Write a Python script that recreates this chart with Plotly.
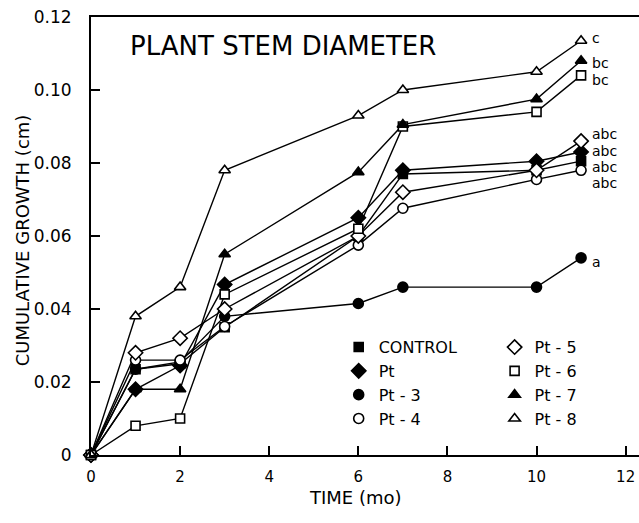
import plotly.graph_objects as go

# ---- data ----
months = [0, 1, 2, 3, 6, 7, 10, 11]
series_names = ["CONTROL", "Pt", "Pt - 3", "Pt - 4", "Pt - 5", "Pt - 6", "Pt - 7", "Pt - 8"]
control = [0, 0.0235, 0.025, 0.035, 0.060, 0.077, 0.078, 0.0805]
pt = [0, 0.018, 0.0245, 0.0467, 0.065, 0.078, 0.0805, 0.083]
pt3 = [0, 0.0235, 0.0255, 0.038, 0.0415, 0.046, 0.046, 0.054]
pt4 = [0, 0.026, 0.026, 0.0352, 0.0575, 0.0676, 0.0755, 0.078]
pt5 = [0, 0.028, 0.032, 0.040, 0.060, 0.072, 0.078, 0.086]
pt6 = [0, 0.008, 0.010, 0.044, 0.062, 0.090, 0.094, 0.104]
pt7 = [0, 0.018, 0.018, 0.055, 0.0775, 0.0905, 0.0975, 0.108]
pt8 = [0, 0.038, 0.046, 0.078, 0.093, 0.100, 0.105, 0.1135]

x_tickvals = [0, 2, 4, 6, 8, 10, 12]
x_ticktext = ["0", "2", "4", "6", "8", "10", "12"]
y_tickvals = [0, 0.02, 0.04, 0.06, 0.08, 0.10, 0.12]
y_ticktext = ["0", "0.02", "0.04", "0.06", "0.08", "0.10", "0.12"]

sig_letters = ["c", "bc", "bc", "abc", "abc", "abc", "abc", "a"]

# ---- styling ----
FONT = "DejaVu Sans"
values = [control, pt, pt3, pt4, pt5, pt6, pt7, pt8]
symbols = ["square", "diamond", "circle", "circle", "diamond", "square", "triangle-up", "triangle-up"]
fills = ["black", "black", "black", "white", "white", "white", "black", "white"]
sizes = [9, 11, 10, 10, 11, 9, 10, 10]
legend_ids = ["legend", "legend", "legend", "legend", "legend2", "legend2", "legend2", "legend2"]
letter_y = [0.1142, 0.1074, 0.1027, 0.0880, 0.0833, 0.0788, 0.0744, 0.0529]

fig = go.Figure()
# lines first
for name, v in zip(series_names, values):
    fig.add_trace(go.Scatter(x=months, y=v, mode="lines", showlegend=False,
                             line=dict(color="black", width=1.4), cliponaxis=False,
                             hoverinfo="skip"))
# markers on top (with legend)
for i in range(len(series_names)):
    fig.add_trace(go.Scatter(
        x=months, y=values[i], mode="markers", name=series_names[i],
        legend=legend_ids[i], legendrank=i,
        marker=dict(symbol=symbols[i], size=sizes[i], color=fills[i],
                    line=dict(color="black", width=1.6)),
        cliponaxis=False))

for letter, ly in zip(sig_letters, letter_y):
    fig.add_annotation(x=11.2, y=ly, text=letter, showarrow=False, xanchor="left",
                       yanchor="middle", font=dict(family=FONT, size=14, color="black"))

# chart title inside plot
fig.add_annotation(x=0.0675, y=0.934, xref="paper", yref="paper", text="PLANT STEM DIAMETER",
                   showarrow=False, xanchor="left", yanchor="middle",
                   font=dict(family=FONT, size=26, color="black"))
# axis titles
fig.add_annotation(x=0.482, y=-0.098, xref="paper", yref="paper", text="TIME (mo)",
                   showarrow=False, xanchor="center", yanchor="middle",
                   font=dict(family=FONT, size=18, color="black"))
fig.add_annotation(x=-0.126, y=0.49, xref="paper", yref="paper", text="CUMULATIVE GROWTH (cm)",
                   showarrow=False, xanchor="center", yanchor="middle", textangle=-90,
                   font=dict(family=FONT, size=18, color="black"))

fig.update_layout(
    width=639, height=523,
    margin=dict(l=91, r=0, t=17, b=68, autoexpand=False),
    paper_bgcolor="white", plot_bgcolor="white",
    font=dict(family=FONT, size=17, color="black"),
    legend=dict(x=0.452, y=0.285, xanchor="left", yanchor="top", bgcolor="rgba(0,0,0,0)",
                font=dict(family=FONT, size=16), tracegroupgap=0, itemwidth=30),
    legend2=dict(x=0.7365, y=0.285, xanchor="left", yanchor="top", bgcolor="rgba(0,0,0,0)",
                 font=dict(family=FONT, size=16), tracegroupgap=0, itemwidth=30),
)
fig.update_xaxes(range=[0, 12.3], tickvals=x_tickvals, ticktext=x_ticktext, automargin=False,
                 showgrid=False, zeroline=False, showline=True, linecolor="black", linewidth=2,
                 mirror=True, ticks="inside", ticklen=9, tickwidth=1.5, tickcolor="black",
                 ticklabelstandoff=7, ticklabeloverflow="allow",
                 tickfont=dict(family=FONT, size=15))
fig.update_yaxes(range=[0, 0.12], tickvals=y_tickvals, ticktext=y_ticktext, automargin=False,
                 showgrid=False, zeroline=False, showline=True, linecolor="black", linewidth=2,
                 ticks="inside", ticklen=9, tickwidth=1.5, tickcolor="black",
                 ticklabelstandoff=14, ticklabeloverflow="allow",
                 tickfont=dict(family=FONT, size=17))

page_fix = ("document.documentElement.style.overflow='hidden';"
            "document.body.style.margin='0';document.body.style.overflow='hidden';")
fig.write_html("out.html", post_script=page_fix, config={"displayModeBar": False})
